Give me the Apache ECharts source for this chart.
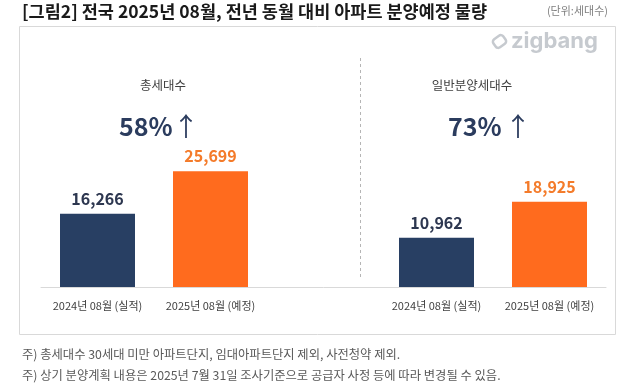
<!DOCTYPE html>
<html>
<head>
<meta charset="utf-8">
<script src="https://cdn.jsdelivr.net/npm/echarts@6/dist/echarts.min.js"></script>
<style>
  html, body { margin: 0; padding: 0; background: #ffffff; }
  #chart { width: 622px; height: 387px; }
</style>
</head>
<body>
<div id="chart"></div>
<script>
// ---- data ----
const categories = ['2024년 08월 (실적)', '2025년 08월 (예정)', '', '2024년 08월 (실적)', '2025년 08월 (예정)'];
const totalValues = [16266, 25699];     // 총세대수
const generalValues = [10962, 18925];   // 일반분양세대수
const groupTitles = ['총세대수', '일반분양세대수'];
const changeLabels = ['58%', '73%'];
const titleText = '[그림2] 전국 2025년 08월, 전년 동월 대비 아파트 분양예정 물량';
const unitText = '(단위:세대수)';
const notes = [
  '주) 총세대수 30세대 미만 아파트단지, 임대아파트단지 제외, 사전청약 제외.',
  '주) 상기 분양계획 내용은 2025년 7월 31일 조사기준으로 공급자 사정 등에 따라 변경될 수 있음.'
];

const NAVY = '#283F63';
const ORANGE = '#FF6B1E';
const NAVY_LABEL = '#2D3750';
const ORANGE_LABEL = '#F47B2A';
const FONT = '"Noto Sans CJK KR", "Noto Sans", sans-serif';

function item(v, isNew) {
  return {
    value: v,
    itemStyle: { color: isNew ? ORANGE : NAVY },
    label: { color: isNew ? ORANGE_LABEL : NAVY_LABEL }
  };
}
const barData = [
  item(totalValues[0], false), item(totalValues[1], true),
  null,
  item(generalValues[0], false), item(generalValues[1], true)
];

const chart = echarts.init(document.getElementById('chart'), null, { renderer: 'canvas' });

function headerTexts(titleCx, pctLeft, arrowCx, title, pct) {
  return [
    {
      type: 'text', x: titleCx, y: 85,
      style: { text: title, font: '12.5px ' + FONT, fill: '#404040', align: 'center', verticalAlign: 'middle' }
    },
    {
      type: 'text', x: pctLeft, y: 126,
      style: { text: pct, font: 'bold 25px ' + FONT, fill: '#2B3C5E', align: 'left', verticalAlign: 'middle' }
    },
    {
      type: 'text', x: arrowCx, y: 126,
      style: { text: '↑', font: '26px "Noto Sans CJK KR"', fill: '#2B3C5E', align: 'center', verticalAlign: 'middle' }
    }
  ];
}

chart.setOption({
  animation: false,
  textStyle: { fontFamily: FONT },
  grid: { left: 41, right: 16, top: 107, bottom: 100, containLabel: false },
  xAxis: {
    type: 'category',
    data: categories,
    axisLine: { lineStyle: { color: '#D9D9D9', width: 1 } },
    axisTick: { show: false },
    axisLabel: { color: '#404040', fontSize: 11, margin: 13, fontFamily: FONT, interval: 0 }
  },
  yAxis: {
    type: 'value', min: 0, max: 40000,
    show: false,
    splitLine: { show: false }
  },
  series: [{
    type: 'bar',
    data: barData,
    barWidth: 75,
    label: {
      show: true, position: 'top', distance: 7,
      fontSize: 16, fontWeight: 'bold', fontFamily: FONT,
      formatter: p => p.value == null ? '' : Number(p.value).toLocaleString('en-US')
    }
  }],
  graphic: [
    {
      type: 'text', x: 22, y: 11,
      style: { text: titleText, font: 'bold 17.5px ' + FONT, fill: '#1A1A1A', verticalAlign: 'middle' }
    },
    {
      type: 'text', x: 608, y: 11,
      style: { text: unitText, font: '11px ' + FONT, fill: '#808080', align: 'right', verticalAlign: 'middle' }
    },
    {
      type: 'rect', shape: { x: 19.5, y: 26.5, width: 596, height: 308 },
      style: { fill: 'none', stroke: '#D9D9D9', lineWidth: 1 }, z: -1
    },
    {
      type: 'rect', x: 499.5, y: 41.5, rotation: Math.PI / 5, originX: 0, originY: 0,
      shape: { x: -6, y: -5, width: 12, height: 10, r: 3 },
      style: { fill: 'none', stroke: '#C6CACF', lineWidth: 2.5 }
    },
    {
      type: 'text', x: 511, y: 41,
      style: { text: 'zigbang', font: 'bold 22px Inter, "Noto Sans", sans-serif', fill: '#C6CACF', verticalAlign: 'middle' }
    },
    {
      type: 'line', shape: { x1: 360.5, y1: 58, x2: 360.5, y2: 278 },
      style: { stroke: '#B5B5B5', lineWidth: 1, lineDash: [3, 3] }
    },
    ...headerTexts(163, 119, 186, groupTitles[0], changeLabels[0]),
    ...headerTexts(472, 448, 518, groupTitles[1], changeLabels[1]),
    {
      type: 'text', x: 22, y: 354,
      style: { text: notes[0], font: '12.3px ' + FONT, fill: '#595959', verticalAlign: 'middle' }
    },
    {
      type: 'text', x: 22, y: 375,
      style: { text: notes[1], font: '12.3px ' + FONT, fill: '#595959', verticalAlign: 'middle' }
    }
  ]
});
</script>
</body>
</html>
